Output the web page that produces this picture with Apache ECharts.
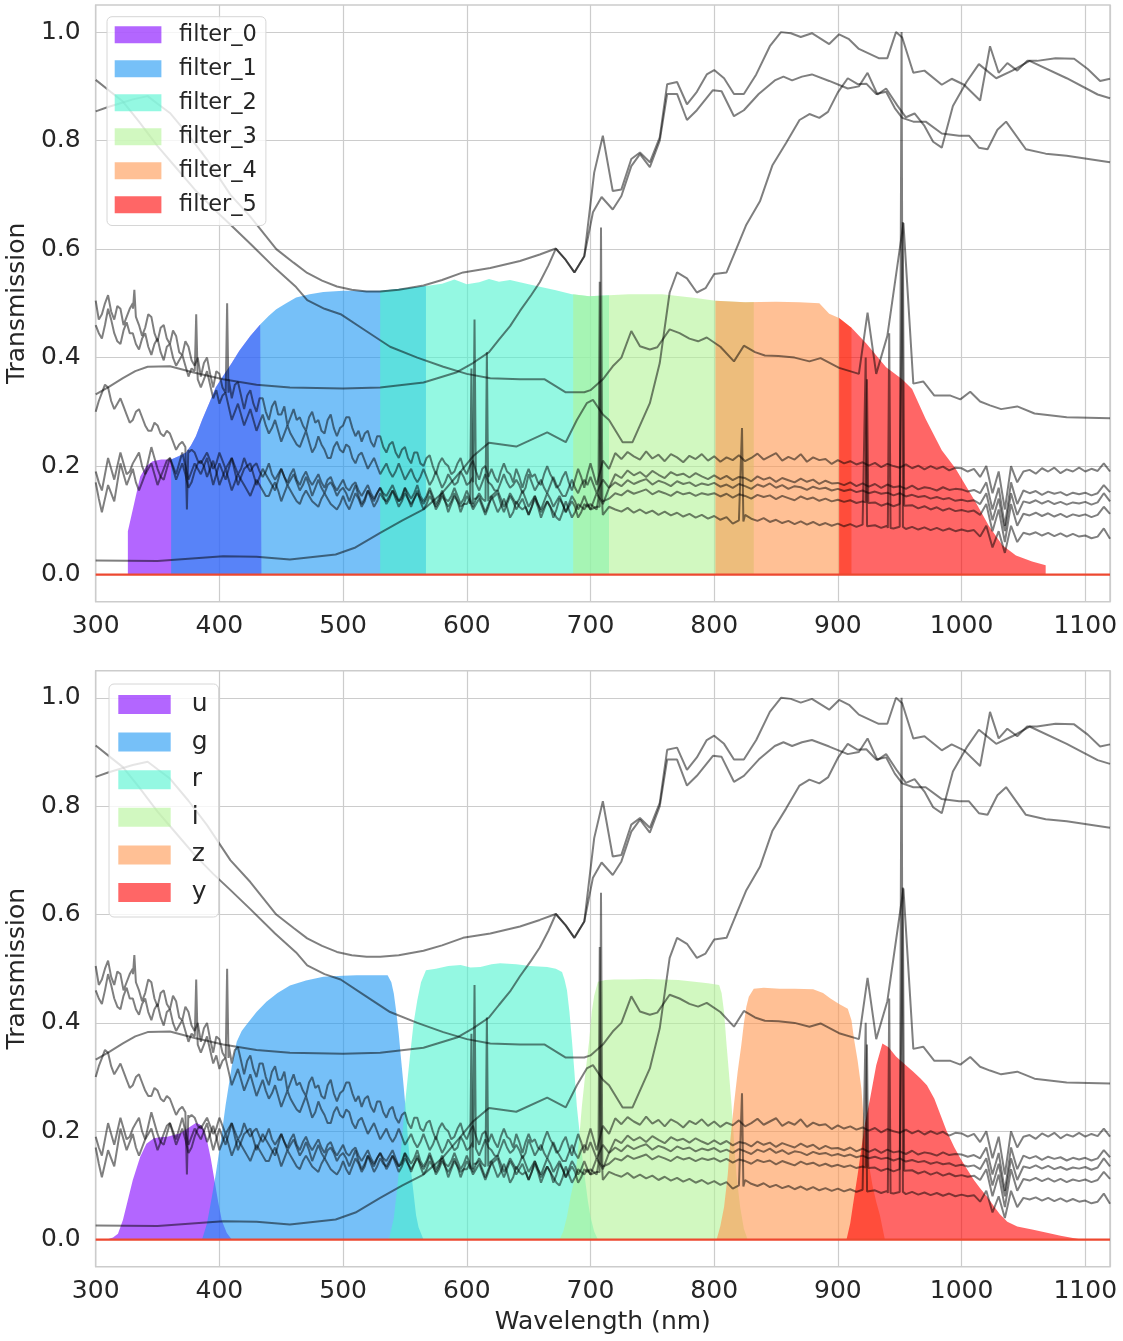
<!DOCTYPE html>
<html><head><meta charset="utf-8">
<script src="https://cdn.jsdelivr.net/npm/echarts/dist/echarts.min.js"></script>
<style>html,body{margin:0;padding:0;background:#fff;}#chart{width:1123px;height:1341px;}</style>
</head><body><div id="chart"></div>
<script>
// ---------------- DATA ----------------
const xTicks = [300,400,500,600,700,800,900,1000,1100];
const yTicks = [0.0,0.2,0.4,0.6,0.8,1.0];

// Top panel: shared throughput curve, cut into filter windows
const topFilterNames = ['filter_0','filter_1','filter_2','filter_3','filter_4','filter_5'];
const topWl = [326,331,336,341,346,353,361,367,373,377,381,386,392,397,403,410,416,425,433,440,446,454,462,473,484,500,530,550,567,580,590,600,610,618,626,635,650,660,672,685,699,715,731,758,785,801,825,850,869,885,893,901,911,923,939,952,960,971,984,995,1012,1022,1033,1044,1057,1068];
const topT = [0.08,0.13,0.181,0.2,0.209,0.212,0.212,0.218,0.225,0.238,0.255,0.285,0.317,0.345,0.366,0.39,0.412,0.44,0.461,0.477,0.489,0.5,0.511,0.517,0.521,0.523,0.523,0.528,0.532,0.536,0.544,0.535,0.539,0.545,0.54,0.543,0.535,0.53,0.524,0.517,0.513,0.515,0.517,0.517,0.51,0.505,0.502,0.503,0.502,0.50,0.481,0.473,0.455,0.426,0.382,0.36,0.342,0.287,0.229,0.196,0.131,0.09,0.054,0.035,0.024,0.017];
const topEdges = [[326,434],[361,567],[530,715],[686,832],[801,911],[901,1068]];

// Bottom panel: ugrizy filter curves
const botFilterNames = ['u','g','r','i','z','y'];
const uWl = [309,314,318,322,326,330,336,341,347,352,358,363,368,372,376,381,384,387,390,393,396,399,402,406,410];
const uT  = [0,0.004,0.011,0.036,0.073,0.11,0.153,0.177,0.187,0.189,0.19,0.193,0.196,0.202,0.208,0.215,0.213,0.205,0.183,0.15,0.11,0.07,0.035,0.012,0];
const gWl = [386,390,394,397,401,405,410,414,418,422,430,438,447,457,470,484,500,511,525,536,539,541,543,545,547,549,551,553,555,557,559,561,565];
const gT  = [0,0.03,0.08,0.12,0.18,0.248,0.32,0.365,0.385,0.397,0.42,0.439,0.455,0.469,0.478,0.485,0.487,0.488,0.488,0.488,0.475,0.454,0.42,0.38,0.33,0.282,0.23,0.171,0.125,0.085,0.045,0.023,0];
const rWl = [537,541,544,547,550,554,557,560,563,567,575,585,595,603,611,620,627,640,651,665,672,677,679,681,683,685,687,689,692,695,698,700,703,706];
const rT  = [0,0.04,0.1,0.17,0.25,0.337,0.4,0.442,0.475,0.497,0.5,0.505,0.507,0.502,0.503,0.508,0.51,0.508,0.505,0.503,0.5,0.494,0.48,0.46,0.42,0.368,0.31,0.245,0.18,0.122,0.07,0.042,0.015,0];
const iWl = [675,678,681,684,688,691,693,696,699,701,703,706,712,719,732,745,759,771,784,795,804,806,808,810,812,814,816,818,821,824,827];
const iT  = [0,0.015,0.042,0.08,0.122,0.19,0.245,0.31,0.368,0.42,0.45,0.476,0.479,0.48,0.48,0.481,0.48,0.479,0.476,0.473,0.47,0.455,0.42,0.36,0.306,0.25,0.183,0.12,0.06,0.02,0];
const zWl = [802,805,808,811,813,816,819,822,824,826,828,832,840,853,865,880,888,894,901,908,911,913,916,919,922,925,928,931,934,938];
const zT  = [0,0.025,0.06,0.12,0.183,0.25,0.31,0.36,0.399,0.43,0.448,0.463,0.465,0.463,0.463,0.462,0.455,0.445,0.435,0.426,0.405,0.371,0.33,0.279,0.186,0.14,0.10,0.07,0.045,0];
const yWl = [907,910,913,916,919,922,926,931,936,941,947,955,961,967,972,978,983,988,994,999,1005,1010,1015,1021,1026,1031,1037,1045,1058,1070,1080,1090,1097];
const yT  = [0,0.03,0.076,0.12,0.168,0.215,0.26,0.322,0.362,0.355,0.338,0.322,0.31,0.297,0.285,0.26,0.23,0.2,0.171,0.15,0.128,0.11,0.095,0.078,0.062,0.047,0.033,0.024,0.018,0.012,0.007,0.003,0];

// Zero line
const baseWl = [300,1120];
const baseT = [0,0];

// Smooth spectra
const aWl = [300,310,320,330,342,350,360,375,390,409,425,446,460,471,483,495,507,519,530,545,565,580,597,619,643,659,672,680,687,695,703,710,718,725,733,740,748,756,762,770,778,786,794,800,808,816,824,834,845,854,862,870,879,893,901,909,917,933,940,947,952,961,970,984,992,1002,1015,1023,1030,1037,1045,1053,1061,1076,1091,1102,1112,1120];
const aT  = [.854,.862,.869,.876,.882,.868,.851,.81,.765,.70,.66,.60,.575,.556,.542,.531,.525,.522,.522,.525,.533,.543,.557,.565,.578,.59,.601,.58,.557,.587,.741,.809,.707,.71,.766,.778,.76,.806,.904,.908,.867,.89,.922,.93,.915,.886,.886,.922,.974,1.0,.998,.991,.998,.978,.996,.987,.969,.952,.952,1.0,.99,.925,.929,.903,.914,.903,.874,.974,.925,.943,.929,.947,.947,.952,.951,.932,.91,.914];
const bWl = [300,312,322,335,350,365,380,395,409,425,445,462,471,485,498,518,538,560,581,600,619,643,663,680,695,700,710,718,725,733,740,748,754,764,772,780,787,794,805,816,824,833,841,852,865,877,886,901,917,924,931,940,953,961,969,978,991,999,1007,1015,1023,1032,1045,1059,1085,1120];
const bT  = [.912,.89,.872,.835,.79,.75,.71,.675,.645,.61,.565,.53,.506,.49,.48,.45,.42,.40,.383,.37,.362,.36,.36,.336,.336,.34,.36,.384,.40,.449,.421,.415,.419,.452,.445,.435,.43,.437,.42,.393,.422,.41,.404,.403,.40,.393,.399,.381,.37,.483,.37,.44,.648,.352,.356,.33,.33,.323,.337,.319,.312,.305,.31,.297,.29,.288];
const cWl = [300,350,403,430,457,494,510,530,548,565,580,595,605,618,640,665,680,689,697,702,710,715,726,734,748,756,764,770,778,786,793,800,810,818,826,837,847,858,869,877,885,892,900,908,916,923,931,939,946,952,961,971,984,998,1006,1014,1021,1029,1036,1052,1068,1085,1120];
const cT  = [.026,.025,.034,.033,.028,.037,.05,.077,.10,.12,.15,.19,.218,.243,.236,.262,.244,.285,.316,.322,.295,.285,.244,.244,.316,.39,.52,.557,.546,.52,.528,.554,.557,.601,.645,.688,.754,.795,.838,.849,.842,.853,.889,.915,.904,.905,.886,.89,.86,.842,.835,.835,.813,.809,.809,.787,.784,.82,.835,.784,.776,.772,.76];
const dWl = [300,310,322,332,342,360,380,403,430,457,500,530,565,592,605,618,626,635,643,652,659,666,672,680,687,695,702,709,718,725,733,740,748,756,762,770,778,786,799,806,816,824,836,849,856,863,871,879,893,908,917,924,932,939,948,955,962,970,977,984,993,1004,1014,1028,1041,1055,1085,1110,1120];
const dT  = [.332,.345,.362,.375,.383,.384,.372,.36,.35,.345,.343,.345,.354,.373,.39,.41,.433,.458,.486,.515,.539,.57,.601,.58,.557,.587,.668,.696,.673,.698,.753,.775,.751,.80,.886,.886,.838,.856,.893,.891,.845,.856,.886,.911,.918,.911,.918,.922,.91,.896,.90,.925,.885,.896,.865,.843,.85,.827,.798,.787,.864,.908,.941,.915,.929,.947,.915,.885,.878];

// Noisy spectra: blue arm every 2.5 nm from 300 nm, red arm every 5 nm from 700 nm
const blueStart = 300, blueStep = 2.5, redStart = 700, redStep = 5;
const n1Blue = [.505,.47,.48,.50,.515,.485,.47,.495,.49,.46,.475,.49,.50,.475,.46,.44,.455,.48,.475,.445,
 .43,.455,.46,.435,.425,.45,.44,.41,.405,.43,.42,.395,.385,.40,.365,.39,.40,.37,.345,.375,
 .37,.345,.335,.36,.325,.35,.355,.33,.305,.33,.34,.315,.30,.325,.325,.30,.285,.31,.32,.295,
 .295,.31,.275,.29,.305,.285,.29,.275,.265,.29,.30,.28,.285,.265,.26,.285,.295,.27,.255,.27,
 .275,.29,.29,.27,.255,.265,.245,.26,.265,.245,.235,.255,.255,.235,.225,.24,.245,.225,.215,.23,
 .235,.215,.205,.225,.225,.205,.20,.215,.22,.2,.185,.205,.215,.205,.2,.185,.19,.205,.215,.195,
 .185,.2,.21,.19,.175,.195,.2,.18,.195,.18,.17,.19,.205,.19,.185,.17,.195,.18,.16,.18,
 .195,.18,.185,.17,.165,.185,.2,.185,.175,.16,.165,.18,.19,.17,.155,.175,.195,.18,.16,.185];
const n1Red = [.205,.165,.21,.195,.224,.213,.226,.218,.212,.227,.214,.221,.209,.222,.216,.207,.219,.213,.222,.21,
 .218,.208,.216,.211,.22,.209,.215,.223,.212,.218,.224,.21,.217,.212,.222,.208,.216,.211,.213,.204,
 .211,.205,.209,.203,.207,.201,.206,.198,.204,.2,.197,.203,.196,.201,.194,.2,.195,.199,.192,.197,
 .196,.19,.195,.18,.20,.15,.19,.12,.20,.17,.19,.193,.186,.196,.19,.197,.187,.194,.19,.197,
 .19,.195,.191,.205,.19];
const n2Blue = [.46,.445,.435,.46,.49,.47,.445,.43,.425,.45,.465,.445,.445,.425,.415,.435,.445,.42,.405,.425,
 .435,.41,.395,.42,.425,.40,.385,.395,.405,.385,.365,.38,.375,.36,.345,.36,.375,.35,.325,.34,
 .315,.33,.335,.31,.285,.30,.315,.295,.275,.29,.305,.285,.265,.28,.295,.275,.26,.27,.285,.265,
 .245,.26,.275,.26,.25,.24,.235,.25,.265,.245,.225,.235,.255,.24,.23,.215,.215,.235,.245,.23,
 .225,.24,.235,.215,.205,.22,.225,.21,.195,.205,.215,.2,.185,.195,.205,.19,.18,.19,.205,.19,
 .175,.185,.195,.18,.17,.18,.195,.18,.165,.175,.19,.175,.16,.17,.185,.175,.165,.17,.19,.18,
 .165,.17,.18,.165,.155,.17,.185,.17,.165,.155,.155,.17,.185,.17,.16,.165,.175,.165,.15,.16,
 .185,.17,.155,.165,.175,.16,.15,.165,.18,.165,.155,.145,.145,.16,.175,.16,.15,.165,.175,.165];
const n2Red = [.18,.15,.175,.16,.185,.178,.192,.183,.189,.18,.191,.184,.178,.189,.183,.186,.179,.187,.181,.176,
 .183,.176,.182,.174,.18,.178,.172,.181,.175,.179,.171,.178,.174,.17,.177,.171,.175,.167,.173,.168,
 .169,.165,.17,.163,.168,.162,.167,.16,.166,.161,.163,.158,.164,.157,.161,.159,.155,.161,.156,.158,
 .157,.153,.156,.15,.17,.12,.16,.09,.17,.13,.155,.15,.154,.147,.153,.149,.152,.146,.151,.148,
 .151,.146,.15,.165,.152];
const n3Blue = [.30,.32,.335,.35,.345,.32,.305,.315,.325,.31,.295,.28,.285,.30,.305,.29,.275,.265,.265,.28,
 .275,.26,.255,.265,.26,.245,.23,.24,.245,.235,.225,.23,.225,.21,.205,.215,.225,.21,.195,.205,
 .225,.21,.195,.205,.215,.20,.185,.195,.215,.2,.19,.20,.205,.19,.18,.19,.205,.185,.175,.185,
 .195,.18,.17,.185,.195,.175,.165,.18,.19,.175,.165,.175,.185,.17,.16,.175,.18,.165,.155,.165,
 .175,.16,.155,.165,.17,.155,.145,.155,.165,.15,.14,.15,.16,.15,.145,.155,.165,.15,.135,.145,
 .16,.15,.14,.15,.165,.145,.135,.145,.16,.145,.13,.14,.155,.14,.135,.145,.16,.145,.13,.14,
 .155,.14,.125,.14,.15,.14,.135,.14,.145,.15,.155,.14,.125,.135,.15,.14,.13,.14,.155,.14,
 .125,.135,.145,.13,.12,.135,.15,.14,.125,.135,.145,.13,.115,.13,.145,.135,.12,.13,.145,.13];
const n3Red = [.12,.15,.13,.16,.17,.163,.174,.167,.172,.176,.166,.173,.169,.163,.172,.167,.17,.163,.168,.165,
 .169,.162,.166,.16,.167,.163,.158,.166,.162,.168,.16,.165,.158,.163,.161,.156,.162,.158,.16,.155,
 .158,.154,.157,.152,.155,.15,.153,.149,.151,.146,.15,.144,.147,.143,.145,.14,.143,.139,.141,.136,
 .138,.135,.137,.13,.15,.10,.14,.08,.15,.11,.135,.132,.137,.131,.136,.13,.134,.129,.133,.131,
 .134,.129,.133,.15,.135];
const n4Blue = [.19,.17,.155,.185,.215,.195,.175,.2,.225,.205,.185,.19,.205,.215,.225,.2,.185,.21,.235,.215,
 .195,.18,.175,.195,.215,.2,.185,.205,.225,.2,.175,.19,.205,.195,.185,.2,.215,.19,.165,.185,
 .205,.19,.175,.195,.215,.19,.165,.18,.195,.2,.205,.185,.165,.18,.195,.185,.175,.165,.155,.175,
 .195,.18,.165,.175,.185,.17,.155,.165,.18,.165,.145,.16,.175,.16,.15,.165,.17,.16,.145,.155,
 .16,.15,.135,.15,.165,.145,.13,.14,.155,.14,.125,.135,.15,.14,.135,.145,.155,.14,.125,.135,
 .15,.14,.13,.14,.155,.135,.12,.13,.145,.135,.125,.135,.15,.135,.115,.13,.145,.135,.125,.13,
 .13,.14,.14,.14,.145,.13,.115,.13,.14,.145,.15,.13,.115,.13,.145,.135,.12,.13,.14,.125,
 .11,.125,.145,.13,.115,.125,.135,.125,.105,.12,.14,.13,.115,.125,.135,.125,.105,.115,.13,.125];
const n4Red = [.13,.12,.135,.14,.15,.146,.155,.149,.153,.157,.148,.154,.15,.145,.153,.148,.151,.145,.15,.147,
 .15,.144,.149,.142,.148,.145,.14,.147,.143,.146,.139,.145,.141,.137,.144,.139,.142,.136,.14,.135,
 .138,.134,.137,.132,.135,.13,.133,.127,.131,.126,.13,.125,.128,.122,.126,.12,.124,.118,.122,.117,
 .119,.116,.118,.11,.13,.08,.12,.06,.13,.09,.112,.109,.114,.108,.113,.107,.112,.106,.111,.108,
 .111,.106,.11,.125,.112];
const n5Blue = [.17,.14,.115,.14,.165,.15,.135,.17,.205,.185,.165,.18,.195,.17,.155,.17,.185,.195,.205,.185,
 .165,.18,.195,.21,.215,.195,.175,.19,.205,.185,.16,.17,.19,.205,.21,.2,.18,.195,.21,.19,
 .165,.18,.195,.175,.155,.17,.185,.175,.165,.155,.145,.16,.175,.165,.155,.145,.145,.16,.17,.155,
 .135,.15,.165,.155,.145,.135,.13,.145,.155,.145,.135,.13,.125,.14,.15,.14,.13,.125,.12,.13,
 .145,.13,.12,.135,.15,.14,.125,.135,.155,.145,.135,.15,.16,.145,.13,.14,.155,.145,.135,.14,
 .16,.14,.125,.14,.15,.14,.13,.14,.155,.14,.12,.13,.145,.135,.125,.135,.15,.135,.115,.13,
 .145,.135,.12,.13,.14,.125,.11,.125,.145,.13,.115,.125,.14,.125,.105,.115,.135,.125,.12,.125,
 .11,.125,.14,.125,.105,.12,.135,.125,.115,.105,.1,.115,.135,.12,.105,.115,.13,.125,.12,.13];
const n5Red = [.12,.125,.11,.125,.12,.116,.123,.114,.12,.113,.118,.11,.116,.109,.114,.107,.112,.105,.11,.103,
 .108,.101,.106,.094,.10,.11,.103,.099,.104,.097,.101,.095,.099,.093,.098,.092,.097,.091,.095,.09,
 .094,.089,.093,.088,.092,.087,.091,.086,.09,.085,.088,.084,.088,.083,.087,.082,.086,.081,.085,.08,
 .083,.08,.082,.07,.09,.05,.08,.04,.09,.06,.077,.074,.078,.072,.077,.071,.076,.07,.075,.07,
 .072,.067,.07,.085,.066];
// narrow emission / absorption lines [wavelength, transmission]
const n1Lines = [[330.15,.49],[331.25,.525],[332.35,.48],[405.15,.34],[406.25,.50],[407.35,.335]];
const n2Lines = [[380.15,.38],[381.25,.48],[382.35,.37],[605.15,.17],[606.25,.47],[607.35,.168]];
const n3Lines = [[372.65,.235],[373.75,.12],[374.85,.23],[615.15,.14],[616.25,.41],[617.35,.135]];
const n4Lines = [[602.65,.13],[603.75,.38],[604.85,.13],[706.4,.14],[707.5,.54],[708.6,.14],[922.4,.133],[923.5,.36],[924.6,.132],[951.4,.128],[952.5,.65],[953.6,.127]];
const n5Lines = [[707.4,.125],[708.5,.64],[709.6,.125],[821.4,.098],[822.5,.27],[823.6,.098],[921.4,.089],[922.5,.40],[923.6,.089],[940.4,.086],[941.5,.445],[942.6,.086],[950.4,.088],[951.5,1.0],[952.6,.088]];

// ---------------- STYLE ----------------
const FONT = 'DejaVu Sans';
const TXT = '#262626';
const GRIDC = '#cccccc';
const filterColors = ['rgba(128,0,255,0.6)','rgba(26,150,243,0.6)','rgba(77,243,206,0.6)','rgba(179,243,150,0.6)','rgba(255,150,79,0.6)','rgba(255,0,0,0.6)'];
const specColor = 'rgba(0,0,0,0.5)';

// ---------------- BUILD ----------------
function pairs(wl, t){ return wl.map((w,k)=>[w,t[k]]); }
function interp(wl, t, x){
  if (x <= wl[0]) return t[0];
  for (let k=0;k<wl.length-1;k++){ if (x <= wl[k+1]) return t[k] + (t[k+1]-t[k])*(x-wl[k])/(wl[k+1]-wl[k]); }
  return t[t.length-1];
}
function windowed(wl, t, lo, hi){
  const d = [[lo,0],[lo,interp(wl,t,lo)]];
  wl.forEach((w,k)=>{ if (w>lo && w<hi) d.push([w,t[k]]); });
  d.push([hi,interp(wl,t,hi)],[hi,0]);
  return d;
}
function noisy(blue, red, lines){
  const b = blue.map((v,k)=>[blueStart+blueStep*k, v]).filter(p=>p[0] < redStart);
  const r = red.map((v,k)=>[redStart+redStep*k, v]);
  return b.concat(r, lines).sort((p,q)=>p[0]-q[0]);
}
const spectra = [pairs(aWl,aT), pairs(bWl,bT), pairs(cWl,cT), pairs(dWl,dT),
  noisy(n1Blue,n1Red,n1Lines), noisy(n2Blue,n2Red,n2Lines), noisy(n3Blue,n3Red,n3Lines),
  noisy(n4Blue,n4Red,n4Lines), noisy(n5Blue,n5Red,n5Lines)];
const topFilters = topEdges.map(e=>windowed(topWl, topT, e[0], e[1]));
const botFilters = [pairs(uWl,uT), pairs(gWl,gT), pairs(rWl,rT), pairs(iWl,iT), pairs(zWl,zT), pairs(yWl,yT)];

function specSeries(data, gi, k){
  return {type:'line', name:'spec'+gi+'_'+k, xAxisIndex:gi, yAxisIndex:gi, data, symbol:'none', showSymbol:false,
    lineStyle:{color:specColor, width:2}, itemStyle:{color:specColor}, silent:true, animation:false};
}
function fillSeries(name, data, gi, color){
  return {type:'line', name, xAxisIndex:gi, yAxisIndex:gi, data, symbol:'none', showSymbol:false,
    lineStyle:{width:0, opacity:0}, itemStyle:{color}, areaStyle:{color, opacity:1}, silent:true, animation:false};
}
function baseSeries(gi){
  return {type:'line', name:'base'+gi, xAxisIndex:gi, yAxisIndex:gi, data:pairs(baseWl,baseT), symbol:'none', showSymbol:false,
    lineStyle:{color:'#ed4830', width:2.2}, itemStyle:{color:'#ed4830'}, silent:true, animation:false};
}

const series = [];
// top: spectra behind filters
spectra.forEach((s,k)=>series.push(specSeries(s,0,k)));
topFilters.forEach((f,k)=>series.push(fillSeries(topFilterNames[k], f, 0, filterColors[k])));
series.push(baseSeries(0));
// bottom: filters behind spectra
botFilters.forEach((f,k)=>series.push(fillSeries(botFilterNames[k], f, 1, filterColors[k])));
series.push(baseSeries(1));
spectra.forEach((s,k)=>series.push(specSeries(s,1,k)));

function fmtX(v){ return xTicks.indexOf(Math.round(v)) >= 0 && Math.abs(v-Math.round(v))<1e-6 ? String(Math.round(v)) : ''; }
function fmtY(v){
  for (const t of yTicks){ if (Math.abs(v-t) < 1e-6) return t.toFixed(1); }
  return '';
}
const labelStyle = {fontSize:25, color:TXT, fontFamily:FONT};
function xAxis(gi, withName){
  const ax = {gridIndex:gi, type:'value', min:300, max:1120, interval:100,
    axisLine:{show:false}, axisTick:{show:false},
    axisLabel:Object.assign({formatter:fmtX, margin:12, hideOverlap:false}, labelStyle),
    splitLine:{show:true, lineStyle:{color:GRIDC, width:1.2}}};
  if (withName){ Object.assign(ax, {name:'Wavelength (nm)', nameLocation:'middle', nameGap:43, nameTextStyle:labelStyle}); }
  return ax;
}
function yAxis(gi){
  return {gridIndex:gi, type:'value', min:-0.05, max:1.05, interval:0.05,
    axisLine:{show:false}, axisTick:{show:false},
    axisLabel:Object.assign({formatter:fmtY, margin:15, hideOverlap:false}, labelStyle),
    splitLine:{show:true, lineStyle:{color:['rgba(0,0,0,0)',GRIDC,'rgba(0,0,0,0)','rgba(0,0,0,0)'], width:1.2}},
    name:'Transmission', nameLocation:'middle', nameGap:58, nameTextStyle:labelStyle};
}
function legend(names, o){
  return {show:true, orient:'vertical', left:o.left, top:o.top, padding:o.padding,
    itemWidth:o.iw, itemHeight:o.ih, itemGap:o.gap, icon:'rect', selectedMode:false,
    backgroundColor:'rgba(255,255,255,0.8)', borderColor:'#d6d6d6', borderWidth:1, borderRadius:5,
    itemStyle:{borderWidth:0},
    textStyle:{fontSize:o.fs, color:TXT, fontFamily:FONT, padding:[0,0,0,o.tp]},
    data:names.map((n,k)=>({name:n, icon:'rect', itemStyle:{color:filterColors[k], borderWidth:0}}))};
}

const option = {
  animation:false,
  backgroundColor:'#ffffff',
  textStyle:{fontFamily:FONT},
  grid:[
    {left:95.7, top:5, width:1014.3, height:596.7, show:true, borderColor:GRIDC, borderWidth:1.5, backgroundColor:'rgba(0,0,0,0)', outerBoundsMode:'none'},
    {left:95.7, top:670.7, width:1014.3, height:596, show:true, borderColor:GRIDC, borderWidth:1.5, backgroundColor:'rgba(0,0,0,0)', outerBoundsMode:'none'}
  ],
  xAxis:[xAxis(0,false), xAxis(1,true)],
  yAxis:[yAxis(0), yAxis(1)],
  legend:[
    legend(topFilterNames, {left:107, top:16.7, padding:[6.5,9,9.3,7.7], iw:46.7, ih:17, gap:11, fs:22.5, tp:12.6}),
    legend(botFilterNames, {left:109, top:684, padding:[8,11,12,9.3], iw:52.4, ih:19, gap:12.6, fs:25, tp:16})
  ],
  series
};
const chart = echarts.init(document.getElementById('chart'), null, {renderer:'canvas'});
chart.setOption(option);
</script></body></html>
